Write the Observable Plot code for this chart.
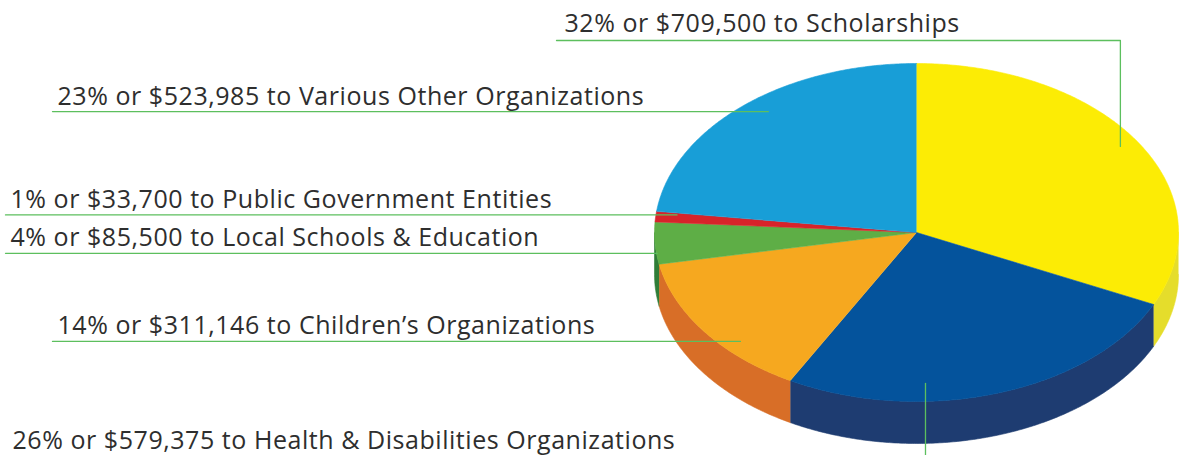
<!DOCTYPE html>
<html><head><meta charset="utf-8">
<script src="https://cdn.jsdelivr.net/npm/d3@7"></script>
<script src="https://cdn.jsdelivr.net/npm/@observablehq/plot@0.6"></script>
<style>html,body{margin:0;padding:0;background:#fff;overflow:hidden}</style>
</head><body><div id="chart"></div>
<script>
// ---- data ----
const recipients = ["Scholarships", "Health & Disabilities Organizations", "Children’s Organizations", "Local Schools & Education", "Public Government Entities", "Various Other Organizations"];
const percents = [32, 26, 14, 4, 1, 23];
const amounts = [709500, 579375, 311146, 85500, 33700, 523985];
const topColors = ["#fcec05", "#04539c", "#f6a81f", "#5eae46", "#d7232a", "#189ed7"];
const sideColors = ["#e5dd2b", "#1e3c71", "#d86e27", "#2f7d37", "#a11b20", "#0f6f9c"];

// ---- layout ----
const W = 1182, H = 455;
const pie = {cx: 916, cy: 232, rx: 262, ry: 169, depth: 42};
const labelLayout = [
  {kind: "elbow", tx: 564, ty: 31, lx: 556, ly: 40, angle: 56.8, r: 0.93},
  {kind: "down", tx: 12, ty: 448, angle: 177.8, r: 0.894},
  {kind: "flat", tx: 57, lx: 52, angle: 226.2, r: 0.931},
  {kind: "flat", tx: 10, lx: 5, angle: 262.9, r: 0.997},
  {kind: "flat", tx: 10, lx: 5, angle: 276.5, r: 0.92},
  {kind: "flat", tx: 57, lx: 52, angle: 321.7, r: 0.912}
];
const lineColor = "#5cbf5e";
const textColor = "#2e2e2e";

const rad = Math.PI / 180;
const pt = (a, r = 1, dy = 0) => [pie.cx + pie.rx * r * Math.sin(a), pie.cy - pie.ry * r * Math.cos(a) + dy];
function arcPts(a0, a1, r = 1, dy = 0) {
  const n = Math.max(2, Math.ceil((a1 - a0) / (Math.PI / 360)));
  return d3.range(n + 1).map(i => pt(a0 + (a1 - a0) * i / n, r, dy));
}

const arcs = d3.pie().sort(null).value(d => d)(percents);
const sideRows = [], topRows = [];
arcs.forEach((a, i) => {
  const s = Math.max(a.startAngle, Math.PI / 2), e = Math.min(a.endAngle, 3 * Math.PI / 2);
  if (e > s) {
    [...arcPts(s, e), ...arcPts(s, e, 1, pie.depth).reverse()]
      .forEach(([x, y]) => sideRows.push({id: "side" + i, x, y, color: sideColors[i]}));
  }
  [[pie.cx, pie.cy], ...arcPts(a.startAngle, a.endAngle)]
    .forEach(([x, y]) => topRows.push({id: "top" + i, x, y, color: topColors[i]}));
});

const leaderRows = [], textRows = [];
labelLayout.forEach((L, i) => {
  const [ax, ay] = pt(L.angle * rad, L.r);
  let pts, ty;
  if (L.kind === "elbow") { pts = [[L.lx, L.ly], [ax, L.ly], [ax, ay]]; ty = L.ty; }
  else if (L.kind === "down") { pts = [[ax, ay], [ax, H + 2]]; ty = L.ty; }
  else { pts = [[L.lx, ay], [ax, ay]]; ty = ay - 7; }
  pts.forEach(([x, y]) => leaderRows.push({id: "lead" + i, x, y}));
  textRows.push({x: L.tx, y: ty,
    text: `${percents[i]}% or $${amounts[i].toLocaleString("en-US")} to ${recipients[i]}`});
});

const chart = Plot.plot({
  width: W, height: H,
  margin: 0,
  x: {domain: [0, W], range: [0, W], axis: null},
  y: {domain: [0, H], range: [0, H], axis: null},
  color: {type: "identity"},
  style: {background: "#fff", letterSpacing: "0.55px"},
  marks: [
    Plot.line(sideRows, {x: "x", y: "y", z: "id", fill: "color", stroke: "color", strokeWidth: 0.6}),
    Plot.line(topRows, {x: "x", y: "y", z: "id", fill: "color", stroke: "color", strokeWidth: 0.6}),
    Plot.line(leaderRows, {x: "x", y: "y", z: "id", stroke: lineColor, strokeWidth: 1.3}),
    Plot.text(textRows, {x: "x", y: "y", text: "text", textAnchor: "start", lineAnchor: "bottom",
      fontSize: 25, fontFamily: "Open Sans", fill: textColor})
  ]
});
document.getElementById("chart").appendChild(chart);
</script>
</body></html>
